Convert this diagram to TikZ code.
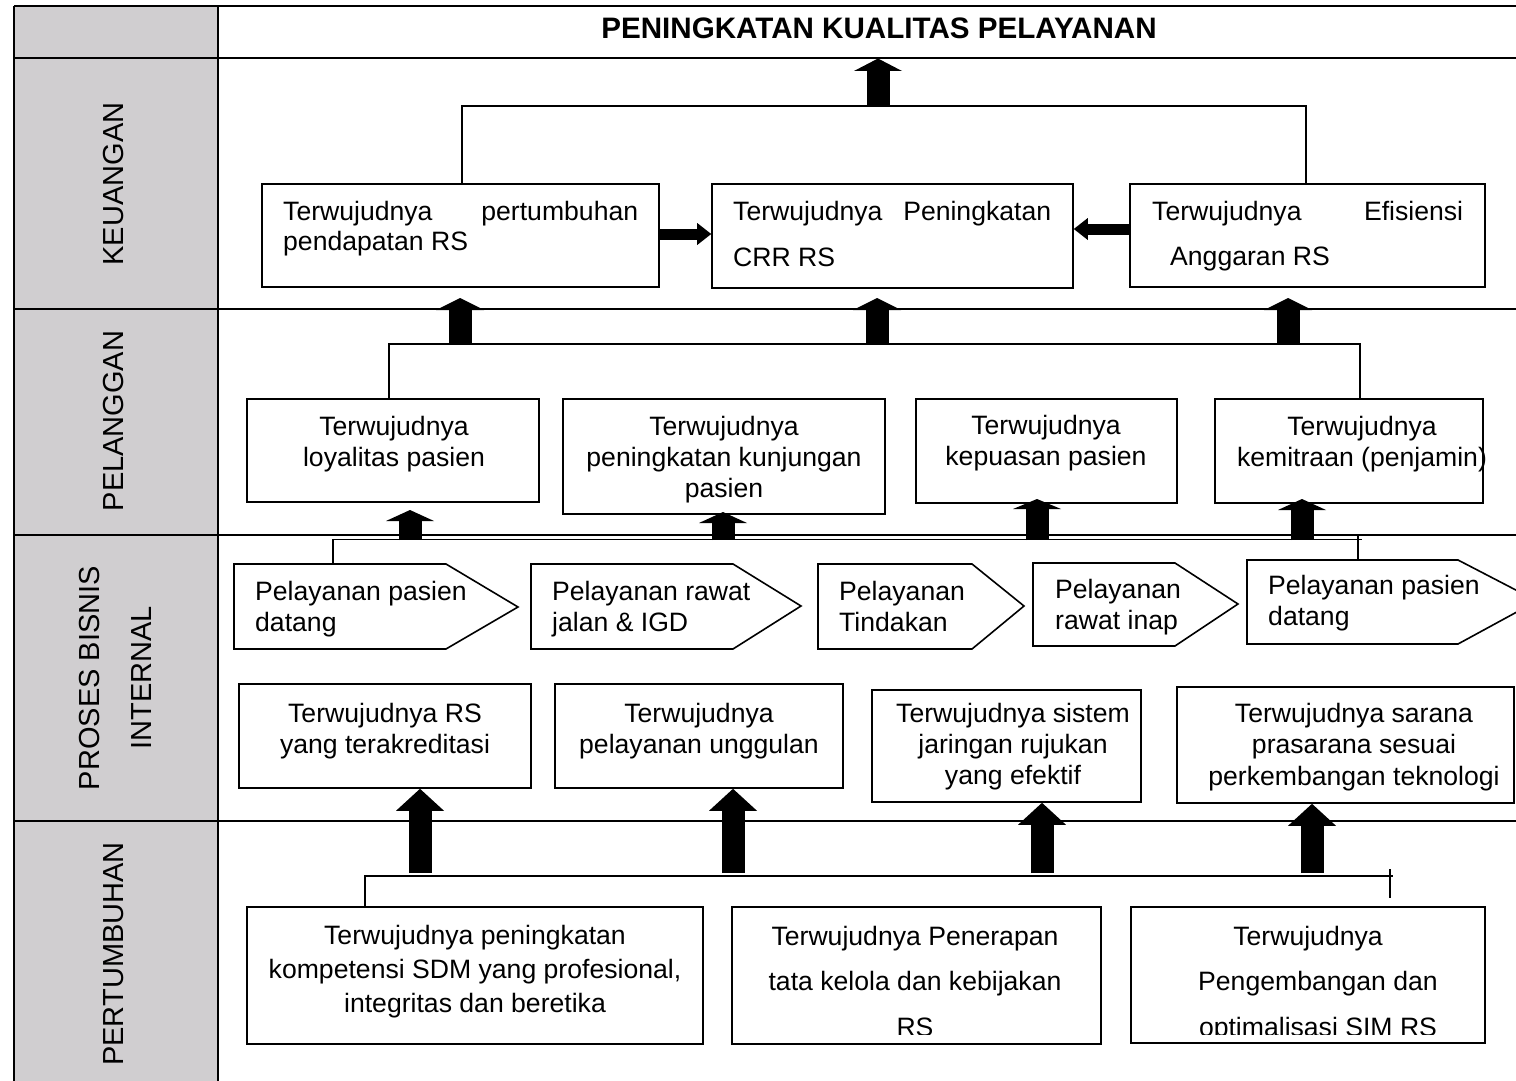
\documentclass[tikz,border=0pt]{standalone}
\usepackage{fontspec}
\setmainfont{Liberation Sans}
\usetikzlibrary{arrows.meta,fit}
\definecolor{lanegray}{RGB}{208,206,208}
\newcommand\toprl{\rule{0pt}{19pt}}
\begin{document}
\begin{tikzpicture}[x=1pt,y=-1pt,
  tbl/.style={line width=2.4pt},
  bx/.style={draw, line width=1.6pt, fill=white, inner sep=0pt},
  pent/.style={draw, line width=1.6pt, fill=white, line join=miter},
  cn/.style={line width=1.5pt},
  tx/.style={inner sep=0pt, font=\fontsize{26.6}{31}\selectfont},
  tc/.style={tx, align=center, anchor=north},
  tl/.style={tx, align=left, anchor=north west},
  lane/.style={inner sep=0pt, rotate=90, font=\fontsize{29}{52}\selectfont, align=center},
  blk/.style={line width=23pt, -{Triangle[width=48pt 0,length=#1 0,line width=0pt 0]}},
  hz/.style={line width=11pt, -{Triangle[width=22pt 0,length=14pt 0,line width=0pt 0]}},
]
\useasboundingbox (0,0) rectangle (1516,1081);
\clip (0,0) rectangle (1516,1081);
% table
\fill[lanegray] (14,6) rectangle (218,1081);
\draw[tbl] (14,6) -- (1516,6);
\draw[tbl] (14,58) -- (1516,58);
\draw[tbl] (14,309) -- (1516,309);
\draw[tbl] (14,535) -- (1516,535);
\draw[tbl] (14,821) -- (1516,821);
\draw[tbl] (14,6) -- (14,1081);
\draw[tbl] (218,6) -- (218,1081);
% lane labels
\node[inner sep=0pt, font=\fontsize{29.6}{34}\selectfont\bfseries] (title) at (879,28) {PENINGKATAN KUALITAS PELAYANAN};
\node[lane] (lk) at (114,184) {KEUANGAN};
\node[lane] (lp) at (114,421) {PELANGGAN};
\node[lane] (lb) at (115,678) {PROSES BISNIS\\INTERNAL};
\node[lane] (lg) at (114,954) {PERTUMBUHAN};
\coordinate (tbase) at (878,58.5);

% KEUANGAN
\node[bx, fit={(262,184) (659,287)}] (k1) {};
\node[bx, fit={(712,184) (1073,288)}] (k2) {};
\node[bx, fit={(1130,184) (1485,287)}] (k3) {};
\node[tx, anchor=base west] (k1a) at (283,220) {\makebox[355pt]{Terwujudnya\hfill pertumbuhan}};
\node[tx, anchor=base west] (k1b) at (283,250) {pendapatan RS};
\node[tx, anchor=base west] (k2a) at (733,220) {\makebox[318pt]{Terwujudnya\hfill Peningkatan}};
\node[tx, anchor=base west] (k2b) at (733,266) {CRR RS};
\node[tx, anchor=base west] (k3a) at (1152,220) {\makebox[311pt]{Terwujudnya\hfill Efisiensi}};
\node[tx, anchor=base west] (k3b) at (1170,265) {Anggaran RS};
\coordinate (kL) at (462,106);
\coordinate (kR) at (1306,106);
\coordinate (kM) at (878,106);
\draw[cn] (k1.north -| kL) -- (kL) -- (kR) -- (k3.north -| kR);
\draw[blk=12.5pt] (kM) -- (tbase);
\draw[hz] (k1.east |- 0,234) -- (k2.west |- 0,234);
\draw[hz] (k3.west |- 0,229) -- (k2.east |- 0,229);

% PELANGGAN
\node[bx, fit={(247,399) (539,502)}] (p1) {};
\node[bx, fit={(563,399) (885,514)}] (p2) {};
\node[bx, fit={(916,399) (1177,503)}] (p3) {};
\node[bx, fit={(1215,399) (1483,503)}] (p4) {};
\node[tc] (p1t) at (394,416) {\toprl Terwujudnya\\loyalitas pasien};
\node[tc] (p2t) at (724,416) {\toprl Terwujudnya\\peningkatan kunjungan\\pasien};
\node[tc] (p3t) at (1046,415) {\toprl Terwujudnya\\kepuasan pasien};
\node[tc] (p4t) at (1362,416) {\toprl Terwujudnya\\kemitraan (penjamin)};
\coordinate (pL) at (389,344);
\coordinate (pR) at (1360,344);
\draw[cn] (p1.north -| pL) -- (pL) -- (pR) -- (p4.north -| pR);
\draw[blk=12pt] (460,344) -- (460,298);
\draw[blk=12pt] (877,344) -- (877,298);
\draw[blk=12pt] (1288,344) -- (1288,298);

% PROSES BISNIS INTERNAL
\draw[pent] (234,564) -- (446,564) -- (518,607) -- (446,649) -- (234,649) -- cycle;
\draw[pent] (531,564) -- (733,564) -- (801,606) -- (733,649) -- (531,649) -- cycle;
\draw[pent] (818,564) -- (972,564) -- (1024,606) -- (972,649) -- (818,649) -- cycle;
\draw[pent] (1033,563) -- (1175,563) -- (1238,604) -- (1175,646) -- (1033,646) -- cycle;
\draw[pent] (1247,560) -- (1458,560) -- (1537,601) -- (1458,644) -- (1247,644) -- cycle;
\node[tl] (s1) at (255,581) {\toprl Pelayanan pasien\\datang};
\node[tl] (s2) at (552,581) {\toprl Pelayanan rawat\\jalan \& IGD};
\node[tl] (s3) at (839,581) {\toprl Pelayanan\\Tindakan};
\node[tl] (s4) at (1055,579) {\toprl Pelayanan\\rawat inap};
\node[tl] (s5) at (1268,575) {\toprl Pelayanan pasien\\datang};
\coordinate (sTop) at (333,564);
\coordinate (sL) at (333,539.5);
\coordinate (sR) at (1362,539.5);
\coordinate (sTa) at (1358,536);
\coordinate (sTb) at (1358,561);
\draw[cn] (sTop) -- (sL) -- (sR);
\draw[cn] (sTa) -- (sTb);
\draw[blk=11pt] (410,540) -- (410,510);
\draw[blk=11pt] (723,540) -- (723,512);
\draw[blk=10pt] (1037,540) -- (1037,499);
\draw[blk=11pt] (1302,540) -- (1302,499);

\node[bx, fit={(239,684) (531,788)}] (b1) {};
\node[bx, fit={(555,684) (843,788)}] (b2) {};
\node[bx, fit={(872,690) (1141,802)}] (b3) {};
\node[bx, fit={(1177,687) (1514,803)}] (b4) {};
\node[tc] (b1t) at (385,703) {\toprl Terwujudnya RS\\yang terakreditasi};
\node[tc] (b2t) at (699,703) {\toprl Terwujudnya\\pelayanan unggulan};
\node[tc] (b3t) at (1013,703) {\toprl Terwujudnya sistem\\jaringan rujukan\\yang efektif};
\node[tc, font=\fontsize{26.6}{31.5}\selectfont] (b4t) at (1354,703) {\toprl Terwujudnya sarana\\prasarana sesuai\\perkembangan teknologi};

% PERTUMBUHAN
\node[bx, fit={(247,907) (703,1044)}] (l1) {};
\node[bx, fit={(732,907) (1101,1044)}] (l2) {};
\node[bx, fit={(1131,907) (1485,1043)}] (l3) {};
\node[tc, font=\fontsize{26.6}{34}\selectfont] (l1t) at (475,925) {\toprl Terwujudnya peningkatan\\kompetensi SDM yang profesional,\\integritas dan beretika};
\begin{scope}
\clip (732,907) rectangle (1485,1034);
\node[tc, font=\fontsize{26.6}{45.5}\selectfont] (l2t) at (915,926) {\toprl Terwujudnya Penerapan\\tata kelola dan kebijakan\\RS};
\node[tc, font=\fontsize{26.6}{45.5}\selectfont] (l3t) at (1318,926) {\toprl Terwujudnya\hspace*{20pt}\\Pengembangan dan\\optimalisasi SIM RS};
\end{scope}
\coordinate (gL) at (365,876);
\coordinate (gR) at (1393,876);
\coordinate (gTa) at (1390,869);
\coordinate (gTb) at (1390,898);
\draw[cn] (l1.north -| gL) -- (gL) -- (gR);
\draw[cn] (gTa) -- (gTb);
\draw[blk=22pt] (420,873) -- (b1.south -| 420,0);
\draw[blk=22pt] (733,873) -- (b2.south -| 733,0);
\draw[blk=22pt] (1042,873) -- (b3.south -| 1042,0);
\draw[blk=22pt] (1312,873) -- (b4.south -| 1312,0);
\end{tikzpicture}
\end{document}
